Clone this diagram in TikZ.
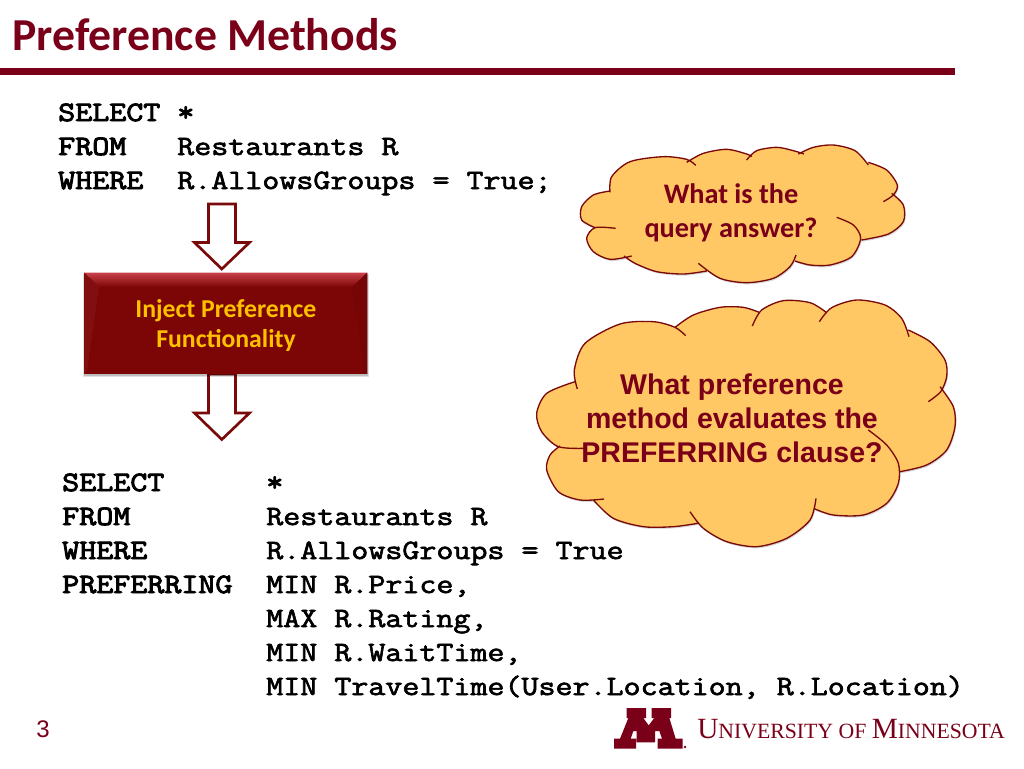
\documentclass[tikz,border=0pt]{standalone}
\usepackage{fontspec}
\usetikzlibrary{shadows,fadings}
\setmainfont{Liberation Sans}
\newfontfamily\carl{Carlito}
\newfontfamily\kwmono[FakeStretch=1.18,FakeBold=3.4]{Latin Modern Mono}
\newfontfamily\valmono[FakeStretch=1.18,FakeBold=2.4]{Latin Modern Mono}
\newfontfamily\cserif{Liberation Serif}
\definecolor{maroon}{HTML}{7A0019}
\definecolor{boxred}{HTML}{7C0505}
\definecolor{bevelred}{HTML}{C8404A}
\definecolor{gold}{HTML}{FFC000}
\definecolor{cloudfill}{HTML}{FFC864}
\definecolor{edge}{HTML}{7A0A0A}
\tikzset{
  codeline/.style={anchor=base west,inner sep=0pt,font=\valmono\fontsize{21}{24}\selectfont,text=black},
  keyline/.style={anchor=base west,inner sep=0pt,font=\kwmono\fontsize{21}{24}\selectfont,text=black},
  blockarrow/.style={draw=edge,fill=white,line width=2pt,line join=miter},
  cloudedge/.style={draw=edge,line width=1pt},
  cloudarea/.style={fill=cloudfill}
}
\def\cloudA#1{plot[smooth] coordinates{(240,187)(245,140)(300,95)(400,80)(470,88)(497,106)}
 #1 plot[smooth] coordinates{(470,97)(520,70)(590,58)(650,72)(665,80)}
 #1 plot[smooth] coordinates{(650,90)(680,62)(740,52)(790,62)(822,72)}
 #1 plot[smooth] coordinates{(805,72)(850,52)(910,45)(975,62)(1015,105)}
 #1 plot[smooth] coordinates{(1015,97)(1070,120)(1102,165)(1090,195)(1060,215)}
 #1 plot[smooth] coordinates{(1085,190)(1120,225)(1120,275)(1075,312)(995,330)}
 #1 plot[smooth] coordinates{(920,262)(970,285)(992,325)(965,380)(900,405)(840,405)(795,393)}
 #1 plot[smooth] coordinates{(798,375)(780,410)(730,445)(650,458)(570,445)(505,400)}
 #1 plot[smooth] coordinates{(530,423)(460,432)(380,425)(315,400)(282,378)}
 #1 plot[smooth] coordinates{(305,378)(240,388)(190,365)(170,325)(195,293)(257,295)}
 #1 plot[smooth] coordinates{(195,293)(155,270)(155,230)(190,195)(240,183)}}
\def\cloudB#1{plot[smooth] coordinates{(142,777)(133,720)(165,640)(270,582)(370,575)(435,592)(467,617)}
 #1 plot[smooth] coordinates{(435,592)(490,555)(570,532)(640,532)(690,548)}
 #1 plot[smooth] coordinates{(667,588)(695,540)(760,512)(840,518)(890,548)}
 #1 plot[smooth] coordinates{(868,575)(905,533)(980,510)(1065,525)(1115,565)(1137,620)}
 #1 plot[smooth] coordinates{(1135,600)(1200,635)(1245,690)(1250,740)(1232,785)(1195,815)}
 #1 plot[smooth] coordinates{(1230,770)(1270,830)(1275,890)(1250,960)(1190,1005)(1110,1025)}
 #1 plot[smooth] coordinates{(1015,900)(1070,945)(1105,1000)(1105,1060)(1070,1120)(1000,1155)(910,1155)(855,1137)}
 #1 plot[smooth] coordinates{(858,1105)(840,1170)(770,1225)(680,1250)(590,1235)(520,1195)(480,1145)}
 #1 plot[smooth] coordinates{(503,1180)(430,1190)(340,1190)(250,1165)(190,1110)}
 #1 plot[smooth] coordinates{(222,1107)(150,1110)(85,1085)(50,1020)(60,975)(90,948)}
 #1 plot[smooth] coordinates{(165,955)(85,950)(35,905)(20,850)(50,790)(135,755)}}
\begin{document}
\begin{tikzpicture}[x=0.75pt,y=-0.75pt]
\useasboundingbox (0,0) rectangle (1024,768);
\fill[white] (0,0) rectangle (1024,768);
% title
\node[anchor=base west,inner sep=0pt,text=maroon,font=\carl\bfseries\fontsize{34.3}{36}\selectfont] (title) at (12,50) {Preference Methods};
\fill[maroon] (0,68) rectangle (955,75);
% top code
\node[keyline] (c1a) at (58,121) {SELECT};
\node[keyline] (c1b) at (177,121) {*};
\node[keyline] (c2a) at (58,155) {FROM};
\node[codeline] (c2b) at (177,155) {Restaurants R};
\node[keyline] (c3a) at (58,189) {WHERE};
\node[codeline] (c3b) at (177,189) {R.AllowsGroups = True;};
% arrows
\draw[blockarrow] (208.5,204) -- (235.5,204) -- (235.5,242.5) -- (249.5,242.5) -- (221.8,269) -- (194.5,242.5) -- (208.5,242.5) -- cycle;
\draw[blockarrow] (208.5,374) -- (235.5,374) -- (235.5,413) -- (249.5,413) -- (221.8,439.5) -- (194.5,413) -- (208.5,413) -- cycle;
% box
\fill[black,opacity=.12] (83,274) rectangle (369,377);
\fill[black,opacity=.15] (84,274) rectangle (368,376);
\fill[boxred] (84.3,272.7) rectangle (367.3,374);
\shade[top color=bevelred,bottom color=boxred] (84.3,272.7) -- (367.3,272.7) -- (352,287) -- (99,287) -- cycle;
\fill[boxred!96!white] (84.3,272.7) -- (99,287) -- (87,371) -- (84.3,374) -- cycle;
\fill[boxred!95!black] (367.3,272.7) -- (352,287) -- (364,371) -- (367.3,374) -- cycle;
\node[inner sep=0pt,align=center,text=gold,font=\carl\bfseries\fontsize{19.3}{22.6}\selectfont] (inject) at (226,325.5) {Inject Preference\\Functionality};
% cloud 1
\begin{scope}[shift={(530,130)},x=0.25pt,y=-0.25pt]
\fill[black,opacity=.15,shift={(3,5)}] \cloudA{--} -- cycle;
\fill[cloudarea] \cloudA{--} -- cycle;
\draw[cloudedge] \cloudA{};
\end{scope}
\node[inner sep=0pt,align=center,text=maroon,font=\carl\bfseries\fontsize{21.2}{25.6}\selectfont] (q1) at (731,213) {What is the\\query answer?};
% cloud 2
\begin{scope}[shift={(530,130)},x=0.25pt,y=-0.25pt]
\fill[black,opacity=.15,shift={(3,5)}] \cloudB{--} -- cycle;
\fill[cloudarea] \cloudB{--} -- cycle;
\draw[cloudedge] \cloudB{};
\end{scope}
\node[inner sep=0pt,align=center,text=maroon,font=\bfseries\fontsize{21.4}{25.6}\selectfont] (q2) at (732,418) {What preference\\method evaluates the\\PREFERRING clause?};
% bottom code
\node[keyline] (d1a) at (62,491) {SELECT};
\node[keyline] (d1b) at (266,491) {*};
\node[keyline] (d2a) at (62,525) {FROM};
\node[codeline] (d2b) at (266,525) {Restaurants R};
\node[keyline] (d3a) at (62,559) {WHERE};
\node[codeline] (d3b) at (266,559) {R.AllowsGroups = True};
\node[keyline] (d4a) at (62,593) {PREFERRING};
\node[codeline] (d4b) at (266,593) {MIN R.Price,};
\node[codeline] (d5b) at (266,627) {MAX R.Rating,};
\node[codeline] (d6b) at (266,661) {MIN R.WaitTime,};
\node[codeline] (d7b) at (266,695) {MIN TravelTime(User.Location, R.Location)};
% page number
\node[anchor=base west,inner sep=0pt,text=maroon,font=\fontsize{18}{20}\selectfont] (pg) at (36,737) {3};
% logo
\begin{scope}[shift={(610,703)},x=0.25pt,y=-0.25pt]
\fill[maroon] (50,15) -- (108,15) -- (108,45) -- (100,45) -- (116,67) -- (133,45) -- (125,45) -- (125,15) -- (183,15) -- (183,45) -- (178,45) -- (197,107) -- (218,107) -- (218,137) -- (143,137) -- (143,107) -- (156,107) -- (148,84) -- (135,84) -- (135,118) -- (80,118) -- (80,84) -- (70,84) -- (62,107) -- (78,107) -- (78,137) -- (12,137) -- (12,107) -- (30,107) -- (55,45) -- (50,45) -- cycle;
\fill[maroon] (225,132) circle (4);
\end{scope}
\node[anchor=base west,inner sep=0pt,text=maroon,font=\cserif\fontsize{16.3}{20}\selectfont] (uni) at (697,738) {{\fontsize{22}{20}\selectfont U}NIVERSITY OF {\fontsize{22}{20}\selectfont M}INNESOTA};
\end{tikzpicture}
\end{document}
